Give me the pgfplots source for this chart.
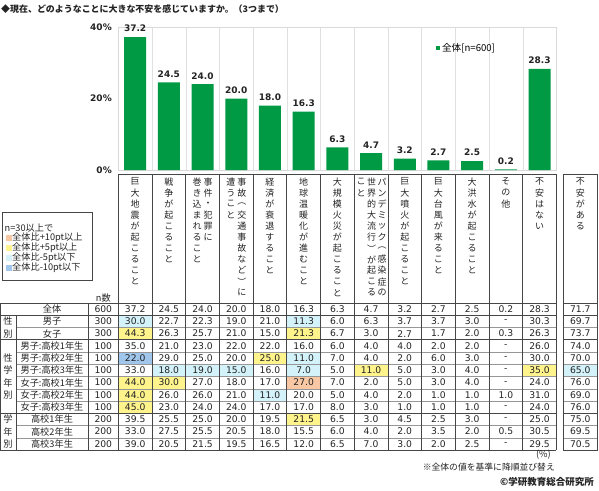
\documentclass[border=0pt]{standalone}
\usepackage{fontspec}
\setmainfont{Noto Sans CJK JP}
\newfontfamily\numfont{DejaVu Sans}
\usepackage{pgfplots}
\pgfplotsset{compat=1.18}
\definecolor{bargreen}{RGB}{0,153,68}
\definecolor{cOr}{RGB}{248,200,165}
\definecolor{cYe}{RGB}{255,243,140}
\definecolor{cCy}{RGB}{212,242,250}
\definecolor{cBl}{RGB}{160,198,236}
\definecolor{txt}{RGB}{35,35,35}
\definecolor{lineC}{RGB}{70,70,70}
\definecolor{lineL}{RGB}{150,150,150}

\tikzset{
  num/.style={font=\numfont\fontsize{9.2}{10}\selectfont, text=txt, inner sep=0pt},
  lab/.style={font=\fontsize{9.2}{10}\selectfont, text=txt, inner sep=0pt},
  hdr/.style={font=\fontsize{9}{10}\selectfont, text=txt, inner sep=0pt},
}
% vertical column of characters
\newcommand\vc[2]{\foreach \c [count=\i from 0] in {#2} {\node[hdr] at (#1,{181.7+11.1*\i}) {\c};}}
% table row
\newcommand\tr[5]{%
  \node[lab] at (52,{309.125+12.25*#1}) {#2};
  \node[num] at (103.3,{309.125+12.25*#1}) {#3};
  \foreach \v [count=\k from 0] in {#4} {\node[num] at ({135.15+33.7*\k},{309.125+12.25*#1}) {\v};}
  \node[num] at (580.3,{309.125+12.25*#1}) {#5};
}
% cell fill
\newcommand\cf[3]{\fill[#3] ({118.3+33.7*#2},{303+12.25*#1}) rectangle ({118.3+33.7*(#2+1)},{303+12.25*(#1+1)});}
\newcommand\cfl[2]{\fill[#2] (563,{303+12.25*#1}) rectangle (597.6,{303+12.25*(#1+1)});}

\begin{document}
\begin{tikzpicture}
\useasboundingbox (0pt,0pt) rectangle (599pt,-490pt);
\begin{axis}[
  at={(118.3pt,-170pt)}, anchor=south west,
  scale only axis, width=438.1pt, height=143pt,
  xmin=-0.5, xmax=12.5, ymin=0, ymax=40,
  ybar, bar width=22pt, clip=false,
  xtick={0.5,1.5,...,11.5}, xticklabels={},
  xmajorgrids, major grid style={draw=black!12},
  ytick={0,20,40}, yticklabels={0\%,20\%,40\%},
  major tick length=0pt,
  axis line style={draw=black!15},
  yticklabel style={font=\numfont\bfseries\fontsize{9}{10}\selectfont, text=txt, xshift=-3pt},
  /pgf/number format/fixed, /pgf/number format/fixed zerofill,
  /pgf/number format/precision=1, /pgf/number format/assume math mode=true,
  nodes near coords,
  nodes near coords style={font=\numfont\bfseries\fontsize{9}{10}\selectfont, text=txt, yshift=1.5pt},
  legend style={at={(0.725,0.85)}, anchor=west, draw=none, fill=none,
    font=\fontsize{9.6}{10}\selectfont, inner sep=0pt},
  legend image code/.code={\fill[bargreen] (0pt,-2pt) rectangle (4pt,2pt);},
]
\addplot[fill=bargreen, draw=none] coordinates {
 (0,37.2) (1,24.5) (2,24.0) (3,20.0) (4,18.0) (5,16.3) (6,6.3)
 (7,4.7) (8,3.2) (9,2.7) (10,2.5) (11,0.2) (12,28.3)};
\addlegendentry{全体[n=600]}
\end{axis}

\begin{scope}[x=1pt,y=-1pt]
% title
\node[anchor=west, inner sep=0pt, font=\bfseries\fontsize{8.95}{10}\selectfont, text=txt] at (1,9)
  {◆現在、どのようなことに大きな不安を感じていますか。（3つまで）};

% legend box for colours
\draw[lineC, line width=0.6pt] (2,212) rectangle (92,280);
\node[lab, anchor=west, font=\fontsize{9.2}{10}\selectfont] at (4.5,228) {n=30以上で};
\fill[cOr] (5.5,235) rectangle (11.5,241);
\fill[cYe] (5.5,245) rectangle (11.5,251);
\fill[cCy] (5.5,255) rectangle (11.5,261);
\fill[cBl] (5.5,265) rectangle (11.5,271);
\node[lab, anchor=west, font=\fontsize{9.2}{10}\selectfont] at (12,238) {全体比+10pt以上};
\node[lab, anchor=west, font=\fontsize{9.2}{10}\selectfont] at (12,248) {全体比+5pt以上};
\node[lab, anchor=west, font=\fontsize{9.2}{10}\selectfont] at (12,258) {全体比-5pt以下};
\node[lab, anchor=west, font=\fontsize{9.2}{10}\selectfont] at (12,268) {全体比-10pt以下};

% cell fills
\cf{1}{0}{cCy} \cf{1}{5}{cCy}
\cf{2}{0}{cYe} \cf{2}{5}{cYe}
\cf{4}{0}{cBl} \cf{4}{4}{cYe} \cf{4}{5}{cCy}
\cf{5}{1}{cCy} \cf{5}{2}{cCy} \cf{5}{3}{cCy} \cf{5}{5}{cCy} \cf{5}{7}{cYe} \cf{5}{12}{cYe} \cfl{5}{cCy}
\cf{6}{0}{cYe} \cf{6}{1}{cYe} \cf{6}{5}{cOr}
\cf{7}{0}{cYe} \cf{7}{4}{cCy}
\cf{8}{0}{cYe}
\cf{9}{5}{cYe}

% inner row lines
\foreach \i in {2,4,5,6,7,8,10,11} {
  \draw[lineL, line width=0.5pt] (16,{303+12.25*\i}) -- (556.4,{303+12.25*\i});
  \draw[lineL, line width=0.5pt] (563,{303+12.25*\i}) -- (597.6,{303+12.25*\i});
}
% group lines
\foreach \i in {0,1,3,9,12} {
  \draw[lineC, line width=0.7pt] (0,{303+12.25*\i}) -- (556.4,{303+12.25*\i});
  \draw[lineC, line width=0.7pt] (563,{303+12.25*\i}) -- (597.6,{303+12.25*\i});
}
% header top
\draw[lineC, line width=0.7pt] (118.3,174) -- (556.4,174);
\draw[lineC, line width=0.7pt] (563,174) -- (597.6,174);
% vertical lines
\draw[lineC, line width=0.7pt] (0,303) -- (0,450);
\draw[lineC, line width=0.7pt] (16,315.25) -- (16,450);
\draw[lineC, line width=0.7pt] (88.3,303) -- (88.3,450);
\foreach \k in {0,...,13} {
  \draw[lineC, line width=0.7pt] ({118.3+33.7*\k},174) -- ({118.3+33.7*\k},450);
}
\draw[lineC, line width=0.7pt] (563,174) -- (563,450);
\draw[lineC, line width=0.7pt] (597.6,174) -- (597.6,450);

% header texts
\vc{135.15}{巨,大,地,震,が,起,こ,る,こ,と}
\vc{168.85}{戦,争,が,起,こ,る,こ,と}
\vc{208.05}{事,件,・,犯,罪,に}
\vc{197.05}{巻,き,込,ま,れ,る,こ,と}
\vc{241.75}{事,故,︵,交,通,事,故,な,ど,︶,に}
\vc{230.75}{遭,う,こ,と}
\vc{269.95}{経,済,が,衰,退,す,る,こ,と}
\vc{303.65}{地,球,温,暖,化,が,進,む,こ,と}
\vc{337.35}{大,規,模,火,災,が,起,こ,る,こ,と}
\vc{382.05}{パ,ン,デ,ミ,ッ,ク,︵,感,染,症,の}
\vc{371.55}{世,界,的,大,流,行,︶,が,起,こ,る}
\vc{361.05}{こ,と}
\vc{404.75}{巨,大,噴,火,が,起,こ,る,こ,と}
\vc{438.45}{巨,大,台,風,が,来,る,こ,と}
\vc{472.15}{大,洪,水,が,起,こ,る,こ,と}
\vc{505.85}{そ,の,他}
\vc{539.55}{不,安,は,な,い}
\vc{580.3}{不,安,が,あ,る}

\node[lab] at (103.3,298.5) {n数};

% group labels
\node[lab] at (8,321.4) {性};
\node[lab] at (8,333.6) {別};
\node[lab] at (8,358.1) {性};
\node[lab] at (8,370.4) {学};
\node[lab] at (8,382.6) {年};
\node[lab] at (8,394.9) {別};
\node[lab] at (8,419.4) {学};
\node[lab] at (8,431.6) {年};
\node[lab] at (8,443.9) {別};

% rows
\tr{0}{全体}{600}{37.2,24.5,24.0,20.0,18.0,16.3,6.3,4.7,3.2,2.7,2.5,0.2,28.3}{71.7}
\tr{1}{男子}{300}{30.0,22.7,22.3,19.0,21.0,11.3,6.0,6.3,3.7,3.7,3.0,-,30.3}{69.7}
\tr{2}{女子}{300}{44.3,26.3,25.7,21.0,15.0,21.3,6.7,3.0,2.7,1.7,2.0,0.3,26.3}{73.7}
\tr{3}{男子:高校1年生}{100}{35.0,21.0,23.0,22.0,22.0,16.0,6.0,4.0,4.0,2.0,2.0,-,26.0}{74.0}
\tr{4}{男子:高校2年生}{100}{22.0,29.0,25.0,20.0,25.0,11.0,7.0,4.0,2.0,6.0,3.0,-,30.0}{70.0}
\tr{5}{男子:高校3年生}{100}{33.0,18.0,19.0,15.0,16.0,7.0,5.0,11.0,5.0,3.0,4.0,-,35.0}{65.0}
\tr{6}{女子:高校1年生}{100}{44.0,30.0,27.0,18.0,17.0,27.0,7.0,2.0,5.0,3.0,4.0,-,24.0}{76.0}
\tr{7}{女子:高校2年生}{100}{44.0,26.0,26.0,21.0,11.0,20.0,5.0,4.0,2.0,1.0,1.0,1.0,31.0}{69.0}
\tr{8}{女子:高校3年生}{100}{45.0,23.0,24.0,24.0,17.0,17.0,8.0,3.0,1.0,1.0,1.0,-,24.0}{76.0}
\tr{9}{高校1年生}{200}{39.5,25.5,25.0,20.0,19.5,21.5,6.5,3.0,4.5,2.5,3.0,-,25.0}{75.0}
\tr{10}{高校2年生}{200}{33.0,27.5,25.5,20.5,18.0,15.5,6.0,4.0,2.0,3.5,2.0,0.5,30.5}{69.5}
\tr{11}{高校3年生}{200}{39.0,20.5,21.5,19.5,16.5,12.0,6.5,7.0,3.0,2.0,2.5,-,29.5}{70.5}

% footnotes
\node[lab, anchor=east] at (551,455) {(\%)};
\node[lab, anchor=east, font=\fontsize{8.8}{10}\selectfont] at (555,467) {※全体の値を基準に降順並び替え};
\node[lab, anchor=east, font=\bfseries\fontsize{9.5}{10}\selectfont] at (594,482) {©学研教育総合研究所};
\end{scope}
\end{tikzpicture}
\end{document}
